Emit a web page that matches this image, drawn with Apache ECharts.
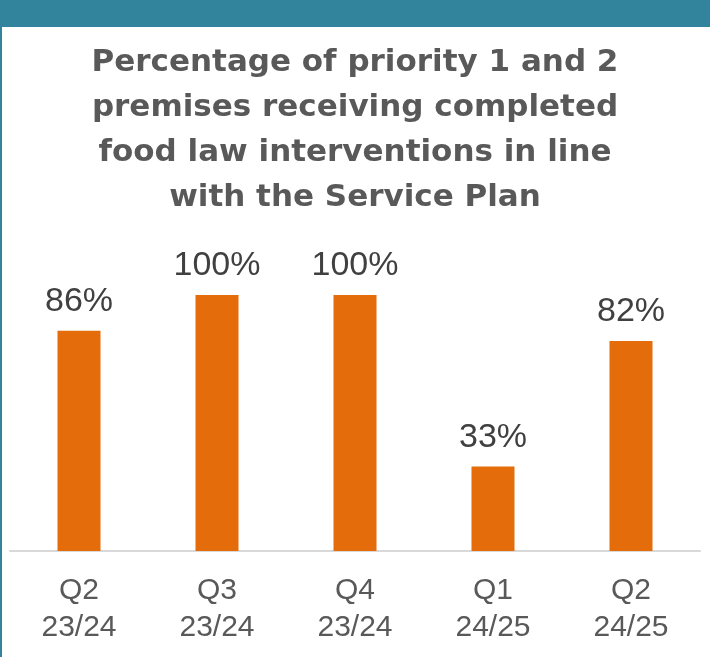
<!DOCTYPE html>
<html><head><meta charset="utf-8">
<script src="https://cdn.jsdelivr.net/npm/echarts@6/dist/echarts.min.js"></script>
<style>html,body{margin:0;padding:0;background:#fff}#c{width:710px;height:657px}</style>
</head><body><div id="c"></div>
<script>
const titleText = 'Percentage of priority 1 and 2\npremises receiving completed\nfood law interventions in line\nwith the Service Plan';
const categories = ['Q2\n23/24', 'Q3\n23/24', 'Q4\n23/24', 'Q1\n24/25', 'Q2\n24/25'];
const values = [86, 100, 100, 33, 82];

const chart = echarts.init(document.getElementById('c'), null, {renderer: 'canvas'});
chart.setOption({
  backgroundColor: '#ffffff',
  animation: false,
  graphic: [
    {type: 'rect', left: 0, top: 0, shape: {width: 710, height: 27}, style: {fill: '#31849B'}},
    {type: 'rect', left: 0, top: 27, shape: {width: 2, height: 630}, style: {fill: '#31849B'}}
  ],
  title: {
    text: titleText,
    left: 'center',
    top: 35,
    textStyle: {fontFamily: 'DejaVu Sans', fontWeight: 'bold', fontSize: 31, color: '#595959', lineHeight: 45}
  },
  grid: {left: 10, right: 10, top: 295, bottom: 106, containLabel: false},
  xAxis: {
    type: 'category',
    data: categories,
    axisLine: {lineStyle: {color: '#D9D9D9', width: 2}},
    axisTick: {show: false},
    axisLabel: {fontFamily: 'Liberation Sans', fontSize: 30, color: '#595959', lineHeight: 37, margin: 21}
  },
  yAxis: {type: 'value', min: 0, max: 100, show: false, splitLine: {show: false}},
  series: [{
    type: 'bar',
    data: values,
    barWidth: 43,
    itemStyle: {color: '#E46C0A'},
    label: {show: true, position: 'top', distance: 12, formatter: '{c}%', fontFamily: 'Liberation Sans', fontSize: 34, color: '#404040'}
  }]
});
</script></body></html>
